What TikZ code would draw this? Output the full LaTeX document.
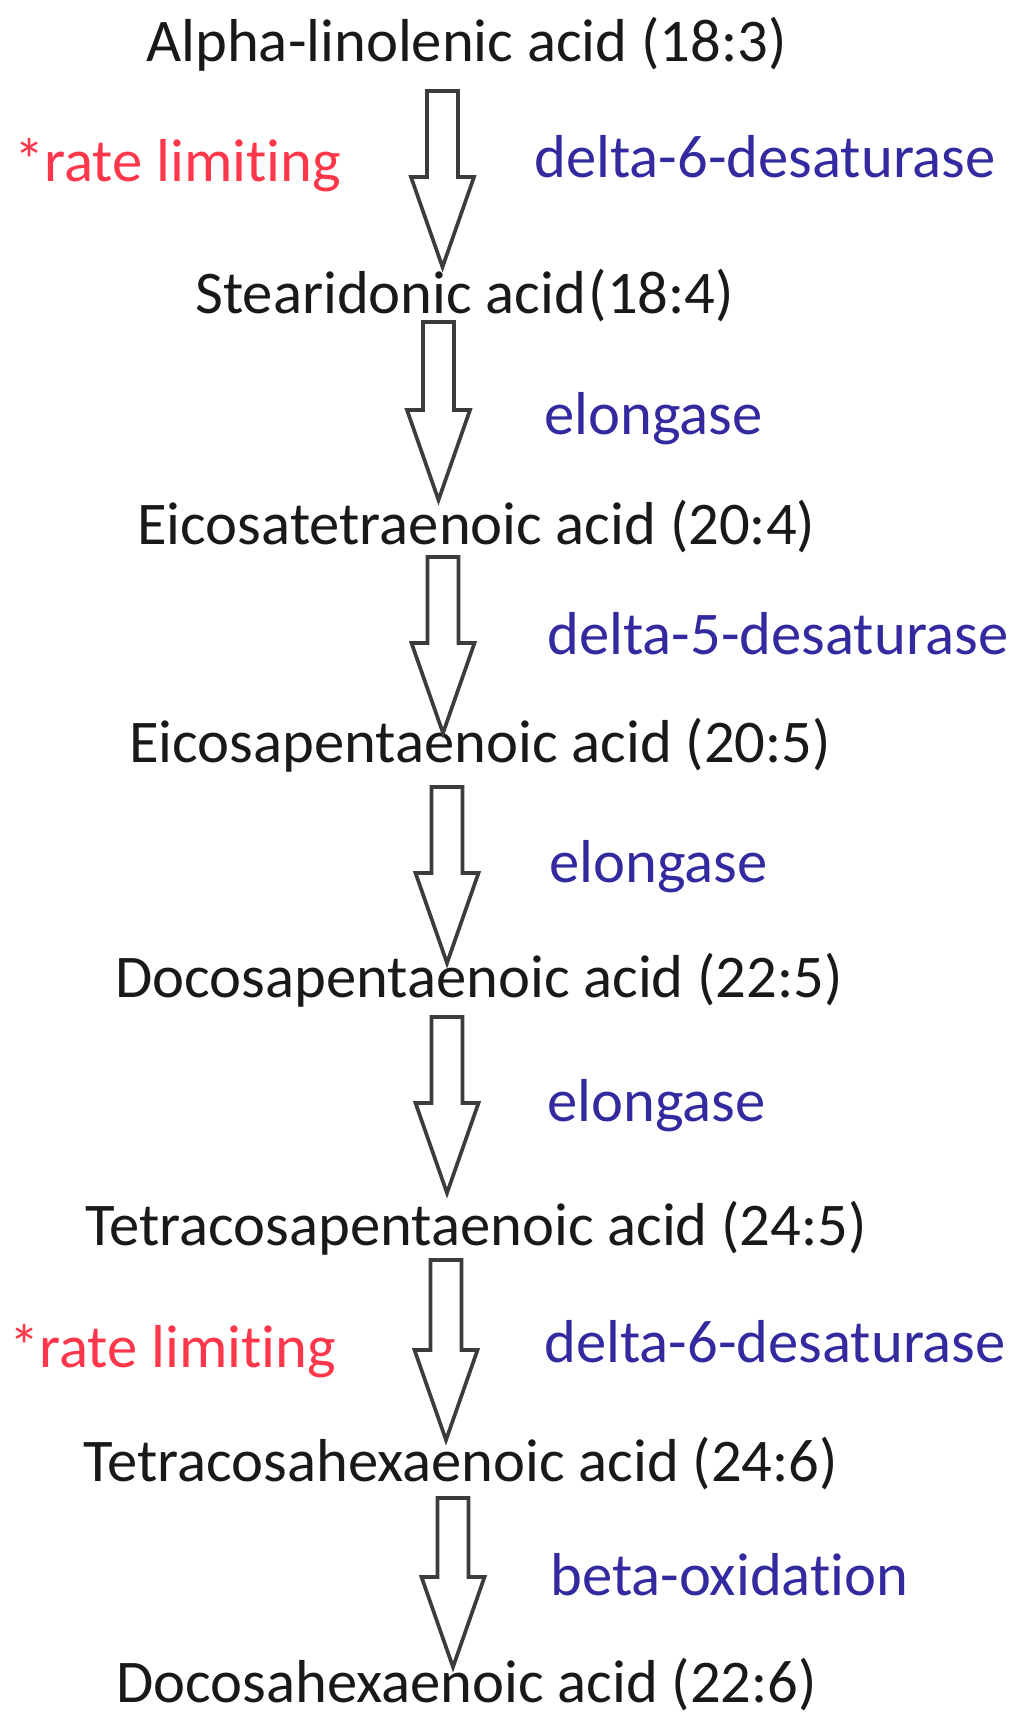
\documentclass[tikz,border=0pt]{standalone}
\usepackage{fontspec}
\setmainfont{Carlito}[Ligatures={NoCommon}]
\usepackage{tikz}
\usetikzlibrary{calc}

\definecolor{acidblack}{RGB}{25,25,25}
\definecolor{enzblue}{RGB}{52,42,160}
\definecolor{rlred}{RGB}{255,55,75}
\definecolor{arrowgray}{RGB}{60,60,60}
\newcommand\pathfont{\fontsize{34.5}{40}\selectfont}

\begin{document}
\begin{tikzpicture}[
		x=0.02cm, y=-0.02cm
		,every node/.append style={inner sep=0pt, anchor=base west, font=\pathfont}
		,acid/.style={text=acidblack}
		,enz/.style={text=enzblue}
		,rl/.style={text=rlred}
		,fat/.style={draw=arrowgray, fill=white, line width=2.1pt, line join=miter,
			to path={let \p1=(\tikztostart), \p2=(\tikztotarget) in
				(\x1-0.31cm,\y1) -- (\x1+0.31cm,\y1) -- (\x1+0.31cm,\y2+1.8cm)
				-- (\x1+0.63cm,\y2+1.8cm) -- (\x2,\y2) -- (\x1-0.63cm,\y2+1.8cm)
				-- (\x1-0.31cm,\y2+1.8cm) -- cycle}}
	]
		\useasboundingbox (0,0) rectangle (1024,1727);

		% fatty acids
		\node [acid] (t1) at (146,62) {Alpha-linolenic acid (18:3)};
		\node [acid] (t2) at (195,313) {Stearidonic acid\kern0.04em(18:4)};
		\node [acid] (t3) at (137,544) {Eicosatetraenoic acid (20:4)};
		\node [acid] (t4) at (129,762) {Eicosapentaenoic acid (20:5)};
		\node [acid] (t5) at (115,997) {Docosapentaenoic acid (22:5)};
		\node [acid] (t6) at (85,1245) {Tetracosapentaenoic acid (24:5)};
		\node [acid] (t7) at (83,1481) {Tetracosahexaenoic acid (24:6)};
		\node [acid] (t8) at (116,1702) {Docosahexaenoic acid (22:6)};

		% enzymes
		\node [enz] (e1) at (534,177) {delta-6-desaturase};
		\node [enz] (e2) at (544,434) {elongase};
		\node [enz] (e3) at (547,654) {delta-5-desaturase};
		\node [enz] (e4) at (549,882) {elongase};
		\node [enz] (e5) at (547,1121) {elongase};
		\node [enz] (e6) at (544,1362) {delta-6-desaturase};
		\node [enz] (e7) at (550,1595) {beta-oxidation};

		\node [rl] (r1) at (14,181) {*rate limiting};
		\node [rl] (r2) at (9,1367) {*rate limiting};

		% block arrows
		\foreach \i/\ax/\ya/\yb in {1/442.5/91/267, 2/438.5/322/500, 3/443/557/733,
			4/447/787/963, 5/447/1017/1193, 6/446/1260/1440, 7/453/1498/1667}{
			\coordinate (a\i s) at (\ax,\ya);
			\coordinate (a\i e) at (\ax,\yb);
			\draw [fat] (a\i s) to (a\i e);
		}
	\end{tikzpicture}
\end{document}
